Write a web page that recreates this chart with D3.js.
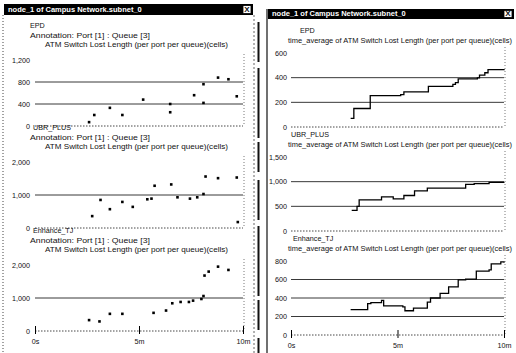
<!DOCTYPE html>
<html><head><meta charset="utf-8">
<script src="https://cdn.jsdelivr.net/npm/d3@7"></script>
<style>
html,body{margin:0;padding:0;background:#fff;}
svg{display:block;}
text{font-family:"Liberation Sans",Arial,sans-serif;fill:#111;}
</style></head><body>
<svg id="c" width="516" height="353"></svg>
<script>
// ---------- data ----------
const windowTitle = "node_1 of Campus Network.subnet_0";
const panelNames = ["EPD", "UBR_PLUS", "Enhance_TJ"];
const annotation = "Annotation: Port [1] : Queue [3]";
const statLabel = "ATM Switch Lost Length (per port per queue)(cells)";
const avgLabel = "time_average of ATM Switch Lost Length (per port per queue)(cells)";
const xTickValues = [0, 5, 10];          // minutes
const xTickLabels = ["0s", "5m", "10m"];

// left window: raw samples (scatter)
const epdTimes   = [2.6, 2.85, 3.6, 4.2, 5.2, 6.5, 6.5, 7.65, 8.1, 8.1, 8.8, 9.3, 9.7];
const epdValues  = [70, 200, 330, 200, 480, 400, 250, 560, 760, 420, 880, 850, 540];
const ubrTimes   = [2.75, 3.15, 3.6, 4.2, 4.7, 5.4, 5.6, 5.75, 6.55, 6.85, 7.45, 7.8, 8.1, 8.2, 8.8, 9.7, 9.75];
const ubrValues  = [360, 850, 570, 790, 640, 870, 890, 1280, 1320, 930, 890, 930, 1030, 1560, 1510, 1530, 180];
const enhTimes   = [2.6, 3.1, 3.6, 4.2, 5.7, 6.3, 6.6, 7.0, 7.4, 7.6, 8.0, 8.1, 8.15, 8.35, 8.8, 9.3];
const enhValues  = [330, 290, 520, 520, 550, 620, 840, 880, 880, 920, 970, 1060, 1680, 1800, 1950, 1850];

const leftTickValues = [[0, 400, 800, 1200], [0, 1000, 2000], [0, 1000, 2000]];
const leftTickLabels = [["0", "400", "800", "1,200"], ["0", "1,000", "2,000"], ["0", "1,000", "2,000"]];

// right window: time averages (step lines)
const epdAvgTimes  = [2.8, 2.95, 3.72, 5.15, 5.3, 6.45, 7.6, 7.72, 7.85, 8.75, 8.85, 9.1, 9.25, 10];
const epdAvgValues = [70, 150, 255, 262, 285, 330, 345, 360, 390, 398, 420, 440, 465, 470];
const ubrAvgTimes  = [2.85, 3.1, 3.2, 4.25, 4.8, 5.3, 5.8, 6.4, 8.2, 8.6, 9.3, 10];
const ubrAvgValues = [420, 500, 630, 690, 650, 720, 815, 870, 945, 960, 985, 990];
const enhAvgTimes  = [2.8, 3.6, 3.75, 4.25, 4.35, 5.25, 5.35, 5.75, 6.4, 6.55, 7.0, 7.4, 7.85, 8.2, 8.7, 9.3, 9.4, 9.85, 10];
const enhAvgValues = [275, 340, 350, 375, 315, 305, 262, 290, 355, 400, 450, 520, 595, 605, 690, 705, 770, 790, 780];

const rightTickValues = [[0, 200, 400, 600], [0, 500, 1000, 1500], [0, 200, 400, 600, 800]];
const rightTickLabels = [["0", "200", "400", "600"], ["0", "500", "1,000", "1,500"], ["0", "200", "400", "600", "800"]];

// ---------- drawing ----------
const svg = d3.select("#c");
const FS = 7.2;

function titleBar(x0, x1, y, h, tx) {
  svg.append("rect").attr("x", x0).attr("y", y).attr("width", x1 - x0).attr("height", h).attr("fill", "#000");
  svg.append("text").attr("x", x0 + 4).attr("y", y + h - 3).attr("font-size", 7.5).attr("font-weight", "bold")
    .style("fill", "#fff").text(tx);
  const bx = x1 - 10;
  svg.append("rect").attr("x", bx).attr("y", y + 1.5).attr("width", 8).attr("height", h - 3)
    .attr("fill", "#fff").attr("stroke", "#000").attr("stroke-width", 0.8);
  svg.append("text").attr("x", bx + 4).attr("y", y + h - 3).attr("text-anchor", "middle")
    .attr("font-size", 8).attr("font-weight", "bold").text("X");
}

function panel(cfg, i, ticks, labels, times, values, kind, texts) {
  const zero = cfg.zeros[i], top = zero - cfg.h;
  const ticksArr = ticks[i];
  const x = d3.scaleLinear().domain([0, 10]).range([cfg.px0, cfg.px1]);
  const y = d3.scaleLinear().domain([0, ticksArr[ticksArr.length - 1]]).range([zero, top]);
  const g = svg.append("g");

  // titles
  texts.forEach(t => {
    g.append("text").attr("x", t.x).attr("y", top + t.dy).attr("font-size", FS)
      .attr("textLength", t.w || null).attr("lengthAdjust", "spacingAndGlyphs").text(t.s);
  });

  // y axis labels via d3 axis
  const ax = d3.axisLeft(y).tickValues(ticksArr).tickSize(0).tickPadding(0)
    .tickFormat((d, k) => labels[i][k]);
  const ag = g.append("g").attr("transform", `translate(${cfg.lx},0)`).call(ax);
  ag.select(".domain").remove();
  ag.selectAll("text").attr("font-size", FS).attr("font-family", "Liberation Sans, Arial, sans-serif")
    .style("fill", "#111").attr("dy", "0.32em");

  // gridlines
  ticksArr.slice(1, -1).forEach(v => {
    g.append("line").attr("x1", cfg.px0).attr("x2", cfg.px1).attr("y1", y(v)).attr("y2", y(v))
      .attr("stroke", "#222").attr("stroke-width", 0.9);
  });
  // zero baseline dotted
  g.append("line").attr("x1", cfg.px0).attr("x2", cfg.px1).attr("y1", zero).attr("y2", zero)
    .attr("stroke", "#333").attr("stroke-width", 0.9).attr("stroke-dasharray", "1.5,1.5");
  // right dotted border
  g.append("line").attr("x1", cfg.px1 + 1).attr("x2", cfg.px1 + 1).attr("y1", top - 6).attr("y2", zero)
    .attr("stroke", "#555").attr("stroke-width", 0.8).attr("stroke-dasharray", "1,2");

  const pts = times.map((t, k) => ({ t, v: values[k] }));
  if (kind === "scatter") {
    g.selectAll("rect.pt").data(pts).join("rect").attr("class", "pt")
      .attr("x", d => x(d.t) - 1.3).attr("y", d => y(d.v) - 1.3)
      .attr("width", 2.6).attr("height", 2.6).attr("fill", "#000");
  } else {
    const line = d3.line().x(d => x(d.t)).y(d => y(d.v)).curve(d3.curveStepAfter);
    g.append("path").datum(pts).attr("d", line).attr("fill", "none")
      .attr("stroke", "#000").attr("stroke-width", 1.3);
  }

  // x axis on bottom panel
  if (i === 2) {
    const xa = d3.axisBottom(x).tickValues(xTickValues).tickSize(5)
      .tickFormat((d, k) => xTickLabels[k]);
    const xg = g.append("g").attr("transform", `translate(0,${zero - 2})`).call(xa);
    xg.select(".domain").remove();
    xg.selectAll("line").attr("stroke", "#000").attr("y1", -3);
    xg.selectAll("text").attr("font-size", FS).attr("font-family", "Liberation Sans, Arial, sans-serif")
      .style("fill", "#111").attr("y", 10);
  }
}

// left window frame
svg.append("line").attr("x1", 3).attr("x2", 3).attr("y1", 15).attr("y2", 353)
  .attr("stroke", "#444").attr("stroke-dasharray", "1,2");
svg.append("line").attr("x1", 254).attr("x2", 254).attr("y1", 15).attr("y2", 353)
  .attr("stroke", "#666").attr("stroke-dasharray", "2,2");
svg.append("line").attr("x1", 258.5).attr("x2", 258.5).attr("y1", 22).attr("y2", 353)
  .attr("stroke", "#111").attr("stroke-width", 2).attr("stroke-dasharray", "40,6,70,4,30,8");
titleBar(4, 253, 4, 11, windowTitle);

// right window frame
svg.append("line").attr("x1", 267).attr("x2", 267).attr("y1", 9).attr("y2", 353)
  .attr("stroke", "#111").attr("stroke-width", 1.2);
titleBar(268, 514, 9, 10, windowTitle);

const L = { px0: 35, px1: 243, zeros: [126, 228, 331], h: 66, lx: 30 };
const R = { px0: 291, px1: 504, zeros: [127, 231, 335], h: 74, lx: 287 };

const leftData = [[epdTimes, epdValues], [ubrTimes, ubrValues], [enhTimes, enhValues]];
const rightData = [[epdAvgTimes, epdAvgValues], [ubrAvgTimes, ubrAvgValues], [enhAvgTimes, enhAvgValues]];
const leftNameX = [30, 33, 33];
const rightNameX = [300, 291, 293];

for (let i = 0; i < 3; i++) {
  panel(L, i, leftTickValues, leftTickLabels, leftData[i][0], leftData[i][1], "scatter", [
    { x: leftNameX[i], dy: -32, s: panelNames[i] },
    { x: 30, dy: -22, s: annotation, w: 120 },
    { x: 45, dy: -13, s: statLabel, w: 183 }
  ]);
  panel(R, i, rightTickValues, rightTickLabels, rightData[i][0], rightData[i][1], "step", [
    { x: rightNameX[i], dy: -20, s: panelNames[i] },
    { x: 288, dy: -10, s: avgLabel, w: 224 }
  ]);
}
</script></body></html>
